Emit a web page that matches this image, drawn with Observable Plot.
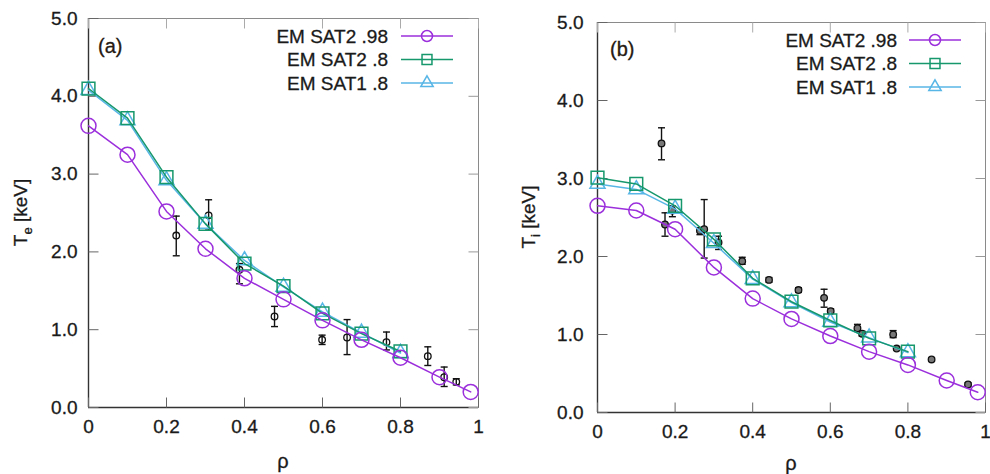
<!DOCTYPE html>
<html>
<head>
<meta charset="utf-8">
<script src="https://cdn.jsdelivr.net/npm/d3@7"></script>
<script src="https://cdn.jsdelivr.net/npm/@observablehq/plot@0.6"></script>
<style>
  html, body { margin: 0; padding: 0; background: #fff; }
  #wrap { display: flex; width: 990px; height: 474px; }
  #wrap > div { position: relative; width: 495px; height: 474px; }
  svg text { stroke: #1a1a1a; stroke-width: 0.3px; }
</style>
</head>
<body>
<div id="wrap"><div id="pa"></div><div id="pb"></div></div>
<script>
// ---- shared x grids ----
const rho98 = [0, 0.1, 0.2, 0.3, 0.4, 0.5, 0.6, 0.7, 0.8, 0.9, 0.98];
const rho8  = [0, 0.1, 0.2, 0.3, 0.4, 0.5, 0.6, 0.7, 0.8];
const xTicks = [0, 0.2, 0.4, 0.6, 0.8, 1];
const yTicks = [0, 1, 2, 3, 4, 5];
const seriesNames = ["EM SAT2 .98", "EM SAT2 .8", "EM SAT1 .8"];

// ---- panel (a): electron temperature ----
const teSat2_98 = [3.62, 3.25, 2.52, 2.04, 1.66, 1.39, 1.12, 0.87, 0.64, 0.39, 0.20];
const teSat2_8  = [4.10, 3.72, 2.96, 2.36, 1.85, 1.56, 1.21, 0.95, 0.72];
const teSat1_8  = [4.08, 3.69, 2.92, 2.36, 1.89, 1.55, 1.23, 0.96, 0.70];
const teExpRho  = [0.225, 0.308, 0.387, 0.477, 0.599, 0.663, 0.764, 0.870, 0.912, 0.943];
const teExp     = [2.21, 2.47, 1.77, 1.17, 0.87, 0.90, 0.84, 0.66, 0.39, 0.33];
const teErrLo   = [1.95, 2.28, 1.59, 1.04, 0.81, 0.68, 0.74, 0.54, 0.27, 0.29];
const teErrHi   = [2.46, 2.67, 1.85, 1.30, 0.93, 1.13, 0.97, 0.78, 0.52, 0.37];

// ---- panel (b): ion temperature ----
const tiSat2_98 = [2.65, 2.59, 2.35, 1.86, 1.46, 1.20, 0.98, 0.78, 0.61, 0.41, 0.26];
const tiSat2_8  = [3.01, 2.93, 2.65, 2.22, 1.72, 1.42, 1.18, 0.95, 0.78];
const tiSat1_8  = [2.93, 2.86, 2.61, 2.17, 1.71, 1.41, 1.16, 0.96, 0.77];
const tiExpRho  = [0.165, 0.174, 0.193, 0.264, 0.275, 0.312, 0.373, 0.442, 0.518, 0.584, 0.601, 0.670, 0.682, 0.762, 0.771, 0.861, 0.955];
const tiExp     = [3.45, 2.41, 2.59, 2.33, 2.35, 2.18, 1.94, 1.70, 1.57, 1.47, 1.30, 1.08, 1.01, 1.00, 0.82, 0.68, 0.36];
const tiErrLo   = [3.24, 2.26, 2.51, 2.28, 1.98, 2.09, 1.90, 1.67, 1.54, 1.35, 1.27, 1.05, 0.98, 0.96, 0.80, 0.66, 0.34];
const tiErrHi   = [3.65, 2.56, 2.65, 2.37, 2.73, 2.26, 1.99, 1.73, 1.60, 1.58, 1.33, 1.13, 1.04, 1.05, 0.84, 0.70, 0.38];

const colors = ["#9b2fdc", "#16976c", "#58b6e6"];
const symbols = ["circle", "square", "triangle"];
const symR = [7.5, 7.2, 5.6];
const legR = [5.5, 5.6, 4.6];
const FONT = "'Liberation Sans', Arial, Helvetica, sans-serif";

// custom tick symbols (inward ticks)
const TL = 10;
const tickRight = {draw(c) { c.moveTo(0, 0); c.lineTo(TL, 0); }};
const tickLeft  = {draw(c) { c.moveTo(0, 0); c.lineTo(-TL, 0); }};
const tickUp    = {draw(c) { c.moveTo(0, 0); c.lineTo(0, -TL); }};
const tickDown  = {draw(c) { c.moveTo(0, 0); c.lineTo(0, TL); }};
const capSym    = {draw(c) { c.moveTo(-3.5, 0); c.lineTo(3.5, 0); }};

function panel(el, cfg) {
  const series = [
    rho98.map((x, i) => ({x, y: cfg.s98[i]})),
    rho8.map((x, i) => ({x, y: cfg.s28[i]})),
    rho8.map((x, i) => ({x, y: cfg.s18[i]}))
  ];
  const exp = cfg.expRho.map((x, i) => ({x, y: cfg.exp[i], lo: cfg.lo[i], hi: cfg.hi[i]}));
  const marks = [
    Plot.frame({stroke: "#8a8a8a", strokeWidth: 1}),
    Plot.ruleX([0], {stroke: "#333", strokeWidth: 1.4}),
    Plot.ruleY([0], {stroke: "#333", strokeWidth: 1.4}),
    Plot.dot(yTicks, {y: d => d, frameAnchor: "left", symbol: tickRight, stroke: "#666", strokeWidth: 1}),
    Plot.dot(yTicks, {y: d => d, frameAnchor: "right", symbol: tickLeft, stroke: "#999", strokeWidth: 1}),
    Plot.dot(xTicks, {x: d => d, frameAnchor: "bottom", symbol: tickUp, stroke: "#666", strokeWidth: 1}),
    Plot.dot(xTicks, {x: d => d, frameAnchor: "top", symbol: tickDown, stroke: "#aaa", strokeWidth: 1}),
    Plot.axisX({ticks: xTicks, tickSize: 0, tickPadding: 12, tickFormat: d3.format(""), label: null, fontSize: 19}),
    Plot.axisY({ticks: yTicks, tickSize: 0, tickPadding: cfg.yPad, tickFormat: d3.format(".1f"), label: null, fontSize: 19}),
    // experimental data with error bars
    Plot.ruleX(exp, {x: "x", y1: "lo", y2: "hi", stroke: "#111", strokeWidth: 1.4}),
    Plot.dot(exp, {x: "x", y: "lo", symbol: capSym, stroke: "#111", strokeWidth: 1.4}),
    Plot.dot(exp, {x: "x", y: "hi", symbol: capSym, stroke: "#111", strokeWidth: 1.4}),
    Plot.dot(exp, {x: "x", y: "y", r: 3.3, stroke: "#111", fill: cfg.expFill, strokeWidth: 1.3}),
  ];
  [2, 1, 0].forEach(k => {
    marks.push(Plot.line(series[k], {x: "x", y: "y", stroke: colors[k], strokeWidth: 1.5}));
    marks.push(Plot.dot(series[k], {x: "x", y: "y", symbol: symbols[k], r: symR[k], stroke: colors[k], fill: "none", strokeWidth: 1.5}));
  });
  const chart = Plot.plot({
    width: 495, height: 474,
    marginLeft: cfg.ml, marginRight: cfg.mr, marginTop: cfg.mt, marginBottom: cfg.mb,
    x: {domain: [0, 1]},
    y: {domain: [0, 5]},
    style: {fontFamily: FONT, fontSize: "19px", color: "#1a1a1a", background: "#fff"},
    marks
  });
  el.appendChild(chart);
  const svg = d3.select(chart);
  const xs = chart.scale("x"), ys = chart.scale("y");
  const xMid = (xs.apply(0) + xs.apply(1)) / 2;
  const yMid = (ys.apply(0) + ys.apply(5)) / 2;
  // y label with subscript
  const yl = svg.append("text")
    .attr("transform", `translate(${cfg.ylx},${yMid}) rotate(-90)`)
    .attr("text-anchor", "middle").attr("font-family", FONT).attr("font-size", 19).attr("fill", "#1a1a1a");
  yl.append("tspan").text("T");
  yl.append("tspan").attr("font-size", 13).attr("dy", 5).text(cfg.sub);
  yl.append("tspan").attr("dy", -5).text(" [keV]");
  // x label
  svg.append("text").attr("x", xMid).attr("y", cfg.xly).attr("text-anchor", "middle")
    .attr("font-family", FONT).attr("font-size", 20).attr("fill", "#1a1a1a").text("ρ");
  // panel tag
  svg.append("text").attr("x", cfg.tagX).attr("y", cfg.tagY).attr("dy", "0.35em").attr("text-anchor", "start")
    .attr("font-family", FONT).attr("font-size", 20).attr("fill", "#2a1a10").text(cfg.tag);
  // legend
  const lg = svg.append("g").attr("font-family", FONT).attr("font-size", 19).attr("fill", "#1a1a1a");
  seriesNames.forEach((name, k) => {
    const yy = cfg.legY + k * cfg.legDy;
    lg.append("text").attr("x", cfg.legTx).attr("y", yy).attr("dy", "0.35em").attr("text-anchor", "end").text(name);
    lg.append("line").attr("x1", cfg.legL1).attr("x2", cfg.legL2).attr("y1", yy).attr("y2", yy)
      .attr("stroke", colors[k]).attr("stroke-width", 1.5);
    const sym = d3.symbol().type(k === 0 ? d3.symbolCircle : k === 1 ? d3.symbolSquare : d3.symbolTriangle)
      .size(Math.PI * legR[k] * legR[k]);
    lg.append("path").attr("d", sym()).attr("transform", `translate(${(cfg.legL1 + cfg.legL2) / 2},${yy})`)
      .attr("fill", "none").attr("stroke", colors[k]).attr("stroke-width", 1.5);
  });
}

panel(document.getElementById("pa"), {
  s98: teSat2_98, s28: teSat2_8, s18: teSat1_8,
  expRho: teExpRho, exp: teExp, lo: teErrLo, hi: teErrHi, expFill: "none",
  ml: 88, mr: 17, mt: 18, mb: 67, yPad: 11,
  sub: "e", ylx: 27, xly: 468, tag: "(a)", tagX: 98, tagY: 46,
  legY: 36, legDy: 23.5, legTx: 388, legL1: 401, legL2: 453
});
panel(document.getElementById("pb"), {
  s98: tiSat2_98, s28: tiSat2_8, s18: tiSat1_8,
  expRho: tiExpRho, exp: tiExp, lo: tiErrLo, hi: tiErrHi, expFill: "#777",
  ml: 102, mr: 5, mt: 22, mb: 62, yPad: 14,
  sub: "i", ylx: 40, xly: 470, tag: "(b)", tagX: 115, tagY: 49,
  legY: 40, legDy: 23.5, legTx: 402, legL1: 414, legL2: 466
});
</script>
</body>
</html>
